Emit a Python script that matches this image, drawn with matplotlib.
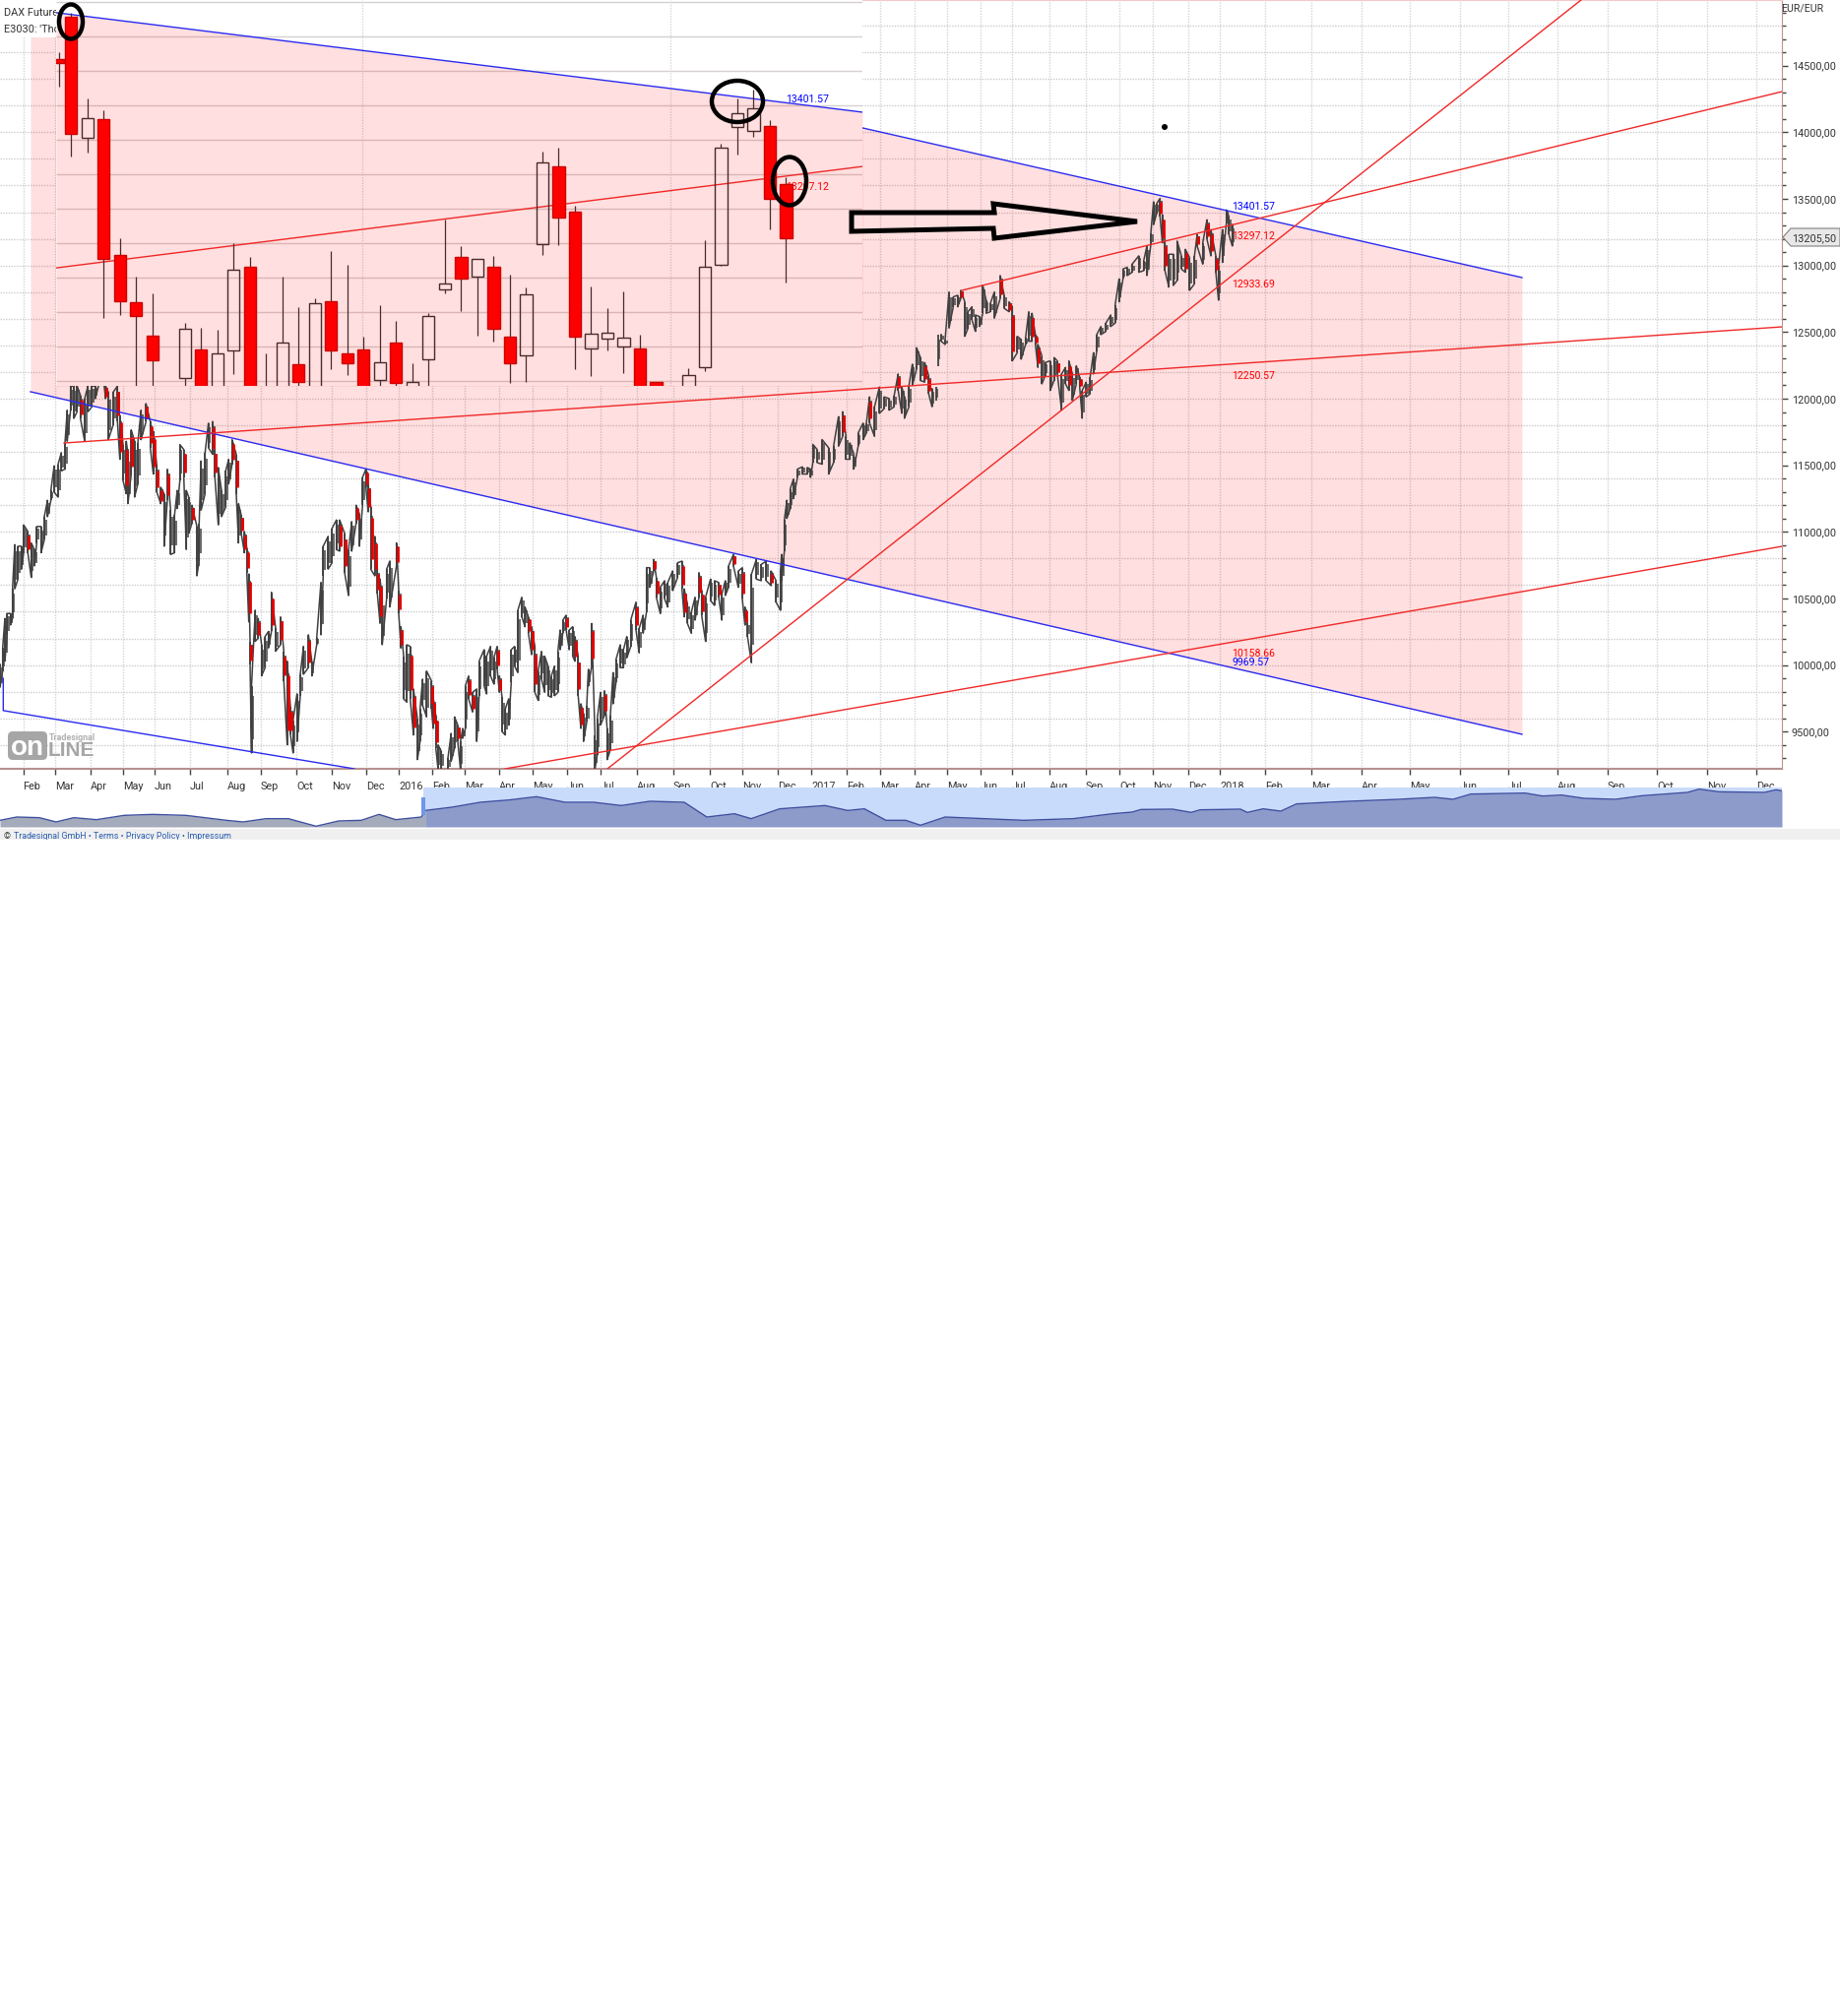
import numpy as np
import matplotlib
matplotlib.use("Agg")
import matplotlib.pyplot as plt
from matplotlib.patches import Ellipse, Polygon, FancyBboxPatch, Rectangle

plt.rcParams['font.family'] = ['Roboto', 'DejaVu Sans']
W, H = 1869, 2048

# month axis of the big chart
tick_x = [23.5,56,92,125,157,193,231,265,301,337,372,405,439,472,507,541,576,610,647,684,721,754,790,824,860,894,
          929,962,996,1028,1066,1103,1137,1171,1207,1239,1285,1332,1383,1432,1483,1532,1582,1633,1683,1734,1784]
tick_labels = ['Feb','Mar','Apr','May','Jun','Jul','Aug','Sep','Oct','Nov','Dec','2016','Feb','Mar','Apr','May','Jun','Jul',
               'Aug','Sep','Oct','Nov','Dec','2017','Feb','Mar','Apr','May','Jun','Jul','Aug','Sep','Oct','Nov','Dec','2018',
               'Feb','Mar','Apr','May','Jun','Jul','Aug','Sep','Oct','Nov','Dec']

# daily bars, 2015 to 2018
bar_x = [0,2.7,5,7.3,10.7,12.7,15,18.3,21.7,24,28.3,31.7,35,37.3,41.7,45,48.3,51.7,55,59,62.3,66,68.3,71.7,75,78.3,81.7,86,89.3,93.3,96.7,
         102,105,107.3,110,115,119.3,121.7,125,128.3,130,133.3,136.7,140,143.3,148.3,152.7,155.7,159.3,163.3,166.7,170,173.3,177.3,180,182.7,186.7,189.3,191.7,195,200,202.3,204.3,208.3,211.7,216,218.3,221.7,225,229.3,232.3,235.7,240,242.3,245,248.3,250.7,252.7,254,255.5,259.3,262.3,265.7,269.3,272.7,275.7,280,285,288.3,291.7,295,297.7,301.7,305,308.3,313.3,316.7,321.7,326,328.3,333.3,337.3,341.7,345,350,354,357.3,361.7,365,368.3,371.7,374,376.7,380.7,383.3,386,388.3,392.7,396,402.7,405,407.3,
         410,413.3,416.7,420,424,426.7,429.3,433.3,438.3,440,442.7,445,448.3,455,458.3,461.7,465,467.7,470,472.7,476,480,484.3,486.7,491.7,494.3,498.3,501.7,505,507.3,510,513.3,516.7,519.3,522.7,526,530,533.3,536.7,540,543.3,546.7,550,553.3,556.7,560,563.3,566.7,569,571.7,575,578.3,581.7,584,587.3,590,592.7,596,597.7,601,604.3,606.7,610,614,616.7,620,622.7,625.7,630,633.3,636.7,640.7,646,649.3,653.3,656.7,660,664,666.7,670.7,675,678.3,683.3,688.3,692.7,695,698.3,702.3,706,710,712.7,716.7,721.7,725.7,730,733.3,736.7,740,745,750,754,756.7,759.3,763.3,768.3,773.3,778.3,783.3,788.3,792.7,
         794,796.7,799.3,802.7,806,810,815,820,823.3,825.7,830,835,841.7,846.7,851.7,856,859.3,863.3,867.3,871.7,876.7,880,883.3,888.3,893.3,898.3,903.3,908.3,912.3,916,918.7,923.3,926.7,931,935,939.3,943.3,946.7,950.7,
         952.7,956,960,964,968.3,972.7,976,980,983.3,987.3,990.7,995,998.3,1001.7,1006,1010,1016,1020,1025,1028.3,1033.3,1037.3,1041.7,1045,1048.3,1051.7,1054.3,1058.3,1061.7,1066.7,1070.7,1074,1078.3,1082.3,1085.7,1089.3,1093.3,1096.7,1099.3,1103.3,1107.3,1110.7,1114,1118.3,1123.3,1128.3,1132.7,1136.7,1140.7,1145,1150,1156.7,1161.7,1165,1169,1171.7,1175,1178.3,1180.7,1183.3,1187.3,1191.7,1195.7,1200,1204,1208.3,1213.3,1216,1221.7,1226,1230,1235,1237.7,1241.7,1245.7,1248.3,1251.7]
bar_high = [10005,10128,10350,10387,10387,10572,10904,10892,10892,11052,11003,10917,10867,11040,11040,11114,11237,11311,11495,11508,11594,11668,11914,12094,12094,12094,12025,12000,12094,12094,12094,
            12250,12250,12094,12049,12049,12094,11877,11655,11680,11582,11766,11680,11668,11914,11963,11828,11754,11495,11335,11286,11471,11163,11126,11311,11655,11618,11311,11261,11200,11040,11064,11532,11594,11816,11828,11618,11483,11311,11458,11545,11692,11582,11212,11126,11003,10880,10683,10178,9845,10412,10350,10153,10215,10252,10547,10276,10362,10104,10030,9685,9586,9784,9931,10141,10227,10030,10202,10621,10892,10966,11027,11089,11089,10990,10867,11077,11200,11138,11409,11471,11360,11187,10966,10719,10646,10498,10719,10781,10917,10559,10288,
            10066,10152,10140,9820,9598,9672,9894,9955,9881,9758,9623,9401,9352,9303,9487,9610,9549,9426,9524,9844,9918,9795,9820,10029,10115,10066,10140,10054,10140,9918,9758,9672,9746,10115,10140,10411,10509,10436,10362,10288,10140,9955,10103,10066,9992,9918,9992,10103,10263,10337,10374,10263,10288,10214,10066,9709,9635,9697,9968,10312,9475,9598,9795,9807,9524,9623,9943,10041,10152,10115,10214,10337,10472,10275,10374,10731,10731,10793,10657,10583,10633,10620,10706,10768,10780,10571,10460,10399,10509,10694,10559,10509,10645,10633,10620,10534,10633,10743,10830,10706,10731,10436,10312,10682,10793,10756,10780,10706,10633,10706,
            10830,11089,11237,11323,11397,11471,11488,11483,11471,11656,11619,11693,11631,11643,11865,11902,11717,11668,11582,11742,11816,11816,12013,11939,12087,12013,12000,12025,12185,12087,12013,12099,12259,12382,12308,12271,12173,12074,12087,
            12481,12481,12444,12801,12764,12776,12813,12727,12653,12690,12628,12616,12850,12739,12715,12801,12924,12776,12727,12690,12468,12444,12456,12653,12641,12481,12407,12321,12271,12284,12308,12284,12185,12234,12284,12185,12247,12160,12062,12124,12160,12345,12481,12542,12567,12628,12702,12899,12973,12986,13010,13072,13035,13146,13244,13478,13466,13503,13380,13183,13084,13084,13183,13072,13121,13059,13072,13232,13170,13343,13269,13072,12998,13269,13417,13367,13306]
bar_low = [9833,9956,10030,10227,10301,10350,10572,10646,10719,10843,10843,10658,10744,10917,10843,10941,11114,11237,11298,11261,11458,11471,11680,11914,11852,11902,11852,11680,11902,11939,12000,
           12150,12150,12000,11692,11803,11828,11545,11384,11286,11212,11434,11261,11360,11692,11828,11631,11434,11298,11212,10892,11237,10830,10843,11175,11384,11409,10867,10990,11064,10670,10781,11163,11286,11631,11582,11409,11052,11114,11187,11360,11508,11286,10917,10990,10843,10695,10325,10005,9340,10178,10202,9919,9981,10128,10252,10104,10153,9882,9402,9476,9340,9426,9771,9931,9981,9919,10153,10227,10670,10720,10769,10867,10855,10695,10522,10855,11064,10892,11200,11335,11150,10719,10670,10535,10313,10153,10498,10436,10744,10386,10128,
           9746,9721,9746,9475,9290,9426,9697,9610,9672,9524,9376,9216,9216,9216,9278,9376,9426,9216,9450,9524,9746,9647,9426,9771,9844,9783,9918,9857,9968,9795,9500,9475,9549,9869,9992,9943,10362,10288,10238,10078,9795,9734,9894,9795,9770,9758,9770,9795,10115,10238,10263,10115,10066,10029,9770,9524,9426,9573,9844,9992,9216,9327,9549,9623,9290,9364,9709,9869,9980,9980,10054,10140,10263,10091,10238,10399,10583,10706,10509,10386,10497,10436,10559,10657,10571,10362,10312,10238,10337,10509,10374,10177,10485,10448,10509,10337,10522,10583,10743,10583,10497,10300,10214,10017,10645,10633,10633,10596,10472,10411,
           10633,10855,11101,11175,11249,11409,11434,11434,11409,11520,11520,11508,11434,11520,11643,11717,11545,11545,11471,11643,11693,11742,11816,11717,11890,11927,11914,11939,12062,11890,11853,11939,12099,12222,12136,12124,12037,11939,11988,
           12247,12431,12407,12530,12690,12690,12752,12468,12530,12591,12505,12542,12641,12641,12653,12604,12752,12678,12653,12284,12345,12296,12407,12431,12431,12407,12234,12111,12173,12062,12136,12185,11914,12111,12062,11988,12111,12087,11853,12013,12037,12185,12357,12481,12505,12542,12567,12727,12899,12924,12949,12949,12961,12924,13158,13306,13392,13367,13170,12961,12838,12850,12887,12973,12949,12813,12862,13146,13010,13195,13072,12949,12739,13023,13318,13232,13146]

# trend lines of the big chart, (x, price) at their two ends
upper_x, upper_p = [31, 1546], [15450, 12909]
lower_x, lower_p = [31, 1546], [12052, 9480]
low_left_x, low_left_p = [3.3, 3.3, 360], [9900, 9658, 9221]
red_top_x, red_top_p = [977, 1810], [12813, 14305]
red_long_x, red_long_p = [65, 1810], [11667, 12539]
red_steep_x, red_steep_p = [617, 1606], [9221, 14993]
red_low_x, red_low_p = [513, 1810], [9221, 10891]

# level labels next to the last bar
level_text = ['13401.57','13297.12','12933.69','12250.57','10158.66','9969.57']
level_price = [13441,13219,12857,12170,10086,10019]
level_color = ['#0000ff','#ff0000','#ff0000','#ff0000','#ff0000','#0000ff']

# pasted weekly chart, upper left
c_n = [0.25,1,2,3,4,5,6,8,9,10,11,12,13,14,15,16,17,18,19,20,21,22,23,24,25,26,27,28,29,30,31,32,33,34,35,36,37,39,40,41,42,43,44,45]
c_open = [13565,13721,13282,13348,12855,12684,12562,12409,12512,12350,12509,12812,12340,12350,12459,12350,12687,12498,12512,12404,12537,12350,12477,12732,12848,12779,12812,12559,12491,12897,13176,13012,12516,12552,12523,12516,12394,12350,12448,12822,13319,13307,13323,13112]
c_high = [13590,13733,13424,13380,12917,12778,12718,12610,12593,12585,12898,12849,12498,12778,12667,12699,12869,12820,12560,12674,12617,12463,12646,12986,12888,12841,12851,12784,12737,13231,13245,13035,12742,12663,12724,12567,12394,12446,12909,13260,13424,13457,13345,13138]
c_low = [13465,13214,13227,12629,12638,12350,12350,12350,12350,12350,12424,12350,12340,12350,12350,12350,12442,12422,12350,12350,12350,12350,12350,12716,12654,12563,12543,12393,12396,12857,12893,12443,12418,12511,12429,12350,12350,12350,12436,12815,13222,13286,12948,12755]
c_close = [13551,13294,13351,12840,12687,12636,12475,12587,12350,12498,12801,12350,12350,12537,12394,12680,12511,12462,12350,12466,12391,12394,12634,12751,12772,12841,12587,12462,12712,13191,12991,12559,12569,12575,12555,12350,12350,12419,12812,13244,13370,13387,13061,12916]
ins_blue_n, ins_blue_p = [0.07, 49.7], [13735, 13374]
ins_red_n, ins_red_p = [0.07, 49.7], [12809, 13177]

# navigator strip
nav_x = [0,17,40,57,75,98,126,155,189,230,247,270,293,321,344,367,385,402,428,432,459,488,517,545,574,603,631,660,695,718,746,763,792,838,861,878,900,
         920,935,960,1000,1040,1090,1130,1150,1159,1191,1210,1219,1260,1267,1283,1301,1317,1370,1421,1457,1476,1494,1549,1567,1586,1609,1641,1668,1714,1726,1746,1792,1804,1810]
nav_v = [20,30,28,15,28,22,35,38,35,20,15,25,25,2,18,20,38,22,30,50,60,75,82,92,75,75,65,78,75,30,40,25,55,65,50,55,20,
         20,5,30,25,20,25,40,45,53,54,44,52,54,44,55,48,70,78,84,90,84,100,103,94,97,87,84,95,105,115,107,105,113,110]


def px_axes(x0, y0, x1, y1, **kw):
    return fig.add_axes([x0 / W, 1 - y1 / H, (x1 - x0) / W, (y1 - y0) / H], **kw)


fig = plt.figure(figsize=(W / 100, H / 100), dpi=100, facecolor='white')
PINK = 0.125

# big chart
ax = px_axes(0, 0, 1810, 781)
ax.set_xlim(0, 1810)
ax.set_ylim(9221, 14993)
ax.set_axisbelow(True)
dot = (0, (1, 1))
ax.hlines(np.arange(9400, 15000, 200), 0, 1810, color='#cccccc', lw=1, ls=dot, zorder=1)
ax.vlines(tick_x, 9221, 14993, color='#d0d4dc', lw=1, ls=dot, zorder=1)

ux = np.array(upper_x)
ax.fill_between(ux, np.array(lower_p), np.array(upper_p), color='#ff0000', alpha=PINK, lw=0, zorder=2)
ax.plot(upper_x, upper_p, color='#2a2af0', lw=1.0, zorder=6)
ax.plot(lower_x, lower_p, color='#2a2af0', lw=1.0, zorder=6)
ax.plot(low_left_x, low_left_p, color='#2a2af0', lw=1.0, zorder=6)
for xs, ps in [(red_top_x, red_top_p), (red_long_x, red_long_p), (red_steep_x, red_steep_p), (red_low_x, red_low_p)]:
    ax.plot(xs, ps, color='#f02828', lw=1.0, zorder=6)

bx = np.array(bar_x)
bh = np.array(bar_high, dtype=float)
bl = np.array(bar_low, dtype=float)
ax.vlines(bx, bl, bh, color='#404040', lw=1.3, zorder=4)
# second outline of the bar body
span = bh - bl
ax.vlines(bx + 1.6, bl + span * 0.2, bh - span * 0.15, color='#404040', lw=1.1, zorder=4)
zig_x = np.repeat(bx, 2)
zig_y = np.column_stack((bl, bh)).ravel()
zig_y[1::4], zig_y[0::4] = bl[::2], bh[::2]
keep = np.where(np.abs(zig_x - 951.5) < 1.3, np.nan, 0)
ax.plot(zig_x, zig_y + keep, color='#404040', lw=1.1, zorder=4)
# falling bars get a red body
mid = (bh + bl) / 2
fall = np.append(mid[1:] < mid[:-1] - 80, False)
ax.vlines(bx[fall] + 0.8, mid[fall] - span[fall] * 0.33, mid[fall] + span[fall] * 0.33, color='#e80000', lw=2, zorder=5)

for t, p, c in zip(level_text, level_price, level_color):
    ax.text(1251, p, t, color=c, fontsize=7.6, va='center', ha='left', zorder=7)

ax.set_xticks(tick_x)
ax.set_xticklabels(tick_labels, fontsize=7.8, color='#333333', ha='left')
ax.yaxis.tick_right()
ax.set_yticks(np.arange(9500, 14501, 500))
ax.set_yticklabels(['%d,00' % v for v in np.arange(9500, 14501, 500)], fontsize=7.8, color='#333333')
ax.set_yticks(np.arange(9300, 14901, 100), minor=True)
ax.tick_params(axis='both', which='major', length=4, width=1, color='#444444', pad=3)
ax.tick_params(axis='y', which='minor', length=3, width=1, color='#444444')
ax.tick_params(axis='x', pad=5)
ax.spines['left'].set_visible(False)
ax.spines['top'].set_color('#f4c8c8')
ax.spines['bottom'].set_color('#b89090')
ax.spines['right'].set_color('#c09090')
ax.spines['bottom'].set_linewidth(1.5)

# name box, top left
ax.add_patch(Rectangle((0, 1 - 38 / 781), 57 / 1810, 38 / 781, transform=ax.transAxes, fc='white', ec='none', zorder=8))
ax.text(4 / 1810, 1 - 13 / 781, 'DAX Futures', transform=ax.transAxes, fontsize=7.8, color='#333333', va='center', zorder=9)
ax.text(4 / 1810, 1 - 30 / 781, "E3030: 'Thomas'", transform=ax.transAxes, fontsize=7.8, color='#333333', va='center', zorder=9)
ax.text(1809 / 1810, 1 - 8 / 781, 'EUR/EUR', transform=ax.transAxes, fontsize=7.6, color='#333333', va='center', clip_on=False)

# pasted weekly chart
ins = px_axes(57, 0, 876, 392, zorder=3)
ins.set_xlim(0.07, 49.7)
ins.set_ylim(12381, 13781)
ins.set_xticks([])
ins.set_yticks([])
for s in ins.spines.values():
    s.set_visible(False)
ins.hlines(np.arange(12400, 13781, 125), 0.07, 49.7, color='#d6d0d0', lw=1, zorder=1)
ins.vlines([18.9, 37.9], 12381, 13781, color='#d8d8d8', lw=1, ls=dot, zorder=1)
ins.fill_between(np.array(ins_blue_n), 12381, ins_blue_p, color='#ff0000', alpha=PINK, lw=0, zorder=2)
ins.plot(ins_blue_n, ins_blue_p, color='#2a2af0', lw=1.0, zorder=3)
ins.plot(ins_red_n, ins_red_p, color='#f02828', lw=1.0, zorder=3)
co = np.array(c_open)
cc = np.array(c_close)
top = np.maximum(co, cc)
bot = np.minimum(co, cc)
ins.vlines(c_n, top, c_high, color='#4a2a2a', lw=0.9, zorder=4)
ins.vlines(c_n, c_low, bot, color='#4a2a2a', lw=0.9, zorder=4)
for n, o, c, t, b in zip(c_n, co, cc, top, bot):
    if o > c:
        ins.bar(n, t - b, bottom=b, width=0.74, fc='#ff0000', ec='#cc0000', lw=1, zorder=5)
    else:
        ins.bar(n, t - b, bottom=b, width=0.74, fc='none', ec='#4a2a2a', lw=1, zorder=5)
ins.text(44.97, 13420, '13401.57', color='#0000ff', fontsize=7.6, va='center')
ins.text(44.97, 13102, '13297.12', color='#ff0000', fontsize=7.6, va='center')

# navigator
nav = px_axes(0, 800, 1810, 840)
nav.set_xlim(0, 1810)
nav.set_ylim(0, 120)
nav.axis('off')
nx = np.array(nav_x)
nv = np.array(nav_v)
nav.axvspan(430, 1810, color='#c9dbfa', lw=0, zorder=1)
nav.fill_between(nx, 0, nv, where=nx <= 432, color='#a4abbb', lw=0, zorder=2)
nav.fill_between(nx, 0, nv, where=nx >= 430, color='#8d9bcb', lw=0, zorder=2)
nav.plot(nx, nv, color='#3f4f9f', lw=1, zorder=3)
nav.axvspan(428, 432, ymin=0.3, ymax=0.75, color='#6f97e8', lw=0, zorder=3)

# footer strip
foot = px_axes(0, 842, 1869, 853)
foot.set_xlim(0, 1869)
foot.set_ylim(853, 842)
foot.set_xticks([])
foot.set_yticks([])
foot.set_facecolor('#f0f0f0')
for s in foot.spines.values():
    s.set_visible(False)
foot.text(4, 850, '©', fontsize=6.4, color='#333333', va='center', clip_on=True)
foot.text(14, 850, 'Tradesignal GmbH • Terms • Privacy Policy • Impressum', fontsize=6.4, color='#2a5db0', va='center', clip_on=True)

# hand drawn marks on top of everything
over = fig.add_axes([0, 0, 1, 1], zorder=10)
over.set_xlim(0, W)
over.set_ylim(H, 0)
over.axis('off')
for cx, cy, w, h in [(72, 22, 24, 35), (749, 103, 52, 42), (802, 184, 34, 49)]:
    over.add_patch(Ellipse((cx, cy), w, h, fc='none', ec='black', lw=3.2))
over.add_patch(Polygon([(865, 216), (1010, 216), (1009, 207), (1155, 225), (1010, 242), (1009, 232), (865, 235)],
                       closed=True, fc='none', ec='black', lw=3.6, joinstyle='miter'))
over.add_patch(Ellipse((1183, 129), 6, 6, fc='black', ec='none'))
# price tag
over.add_patch(Polygon([(1811, 241), (1819, 232), (1869, 232), (1869, 250), (1819, 250)], closed=True,
                       fc='#e8e8e8', ec='#808080', lw=0.8, clip_on=False))
over.text(1820, 242, '13205,50', fontsize=7.8, color='#333333', va='center', ha='left')
# logo
over.add_patch(FancyBboxPatch((10, 745), 36, 25, boxstyle='round,pad=2,rounding_size=5', fc='#a6a6a6', ec='none'))
over.text(28, 760, 'on', fontsize=20, fontweight='bold', color='white', ha='center', va='center', family='Liberation Sans')
over.text(50, 750, 'Tradesignal', fontsize=6.4, fontweight='bold', color='#b0b0b0', va='center')
over.text(49, 762, 'LINE', fontsize=15, fontweight='bold', color='#a6a6a6', va='center', family='Liberation Sans')

fig.savefig('out.png', dpi=100)
